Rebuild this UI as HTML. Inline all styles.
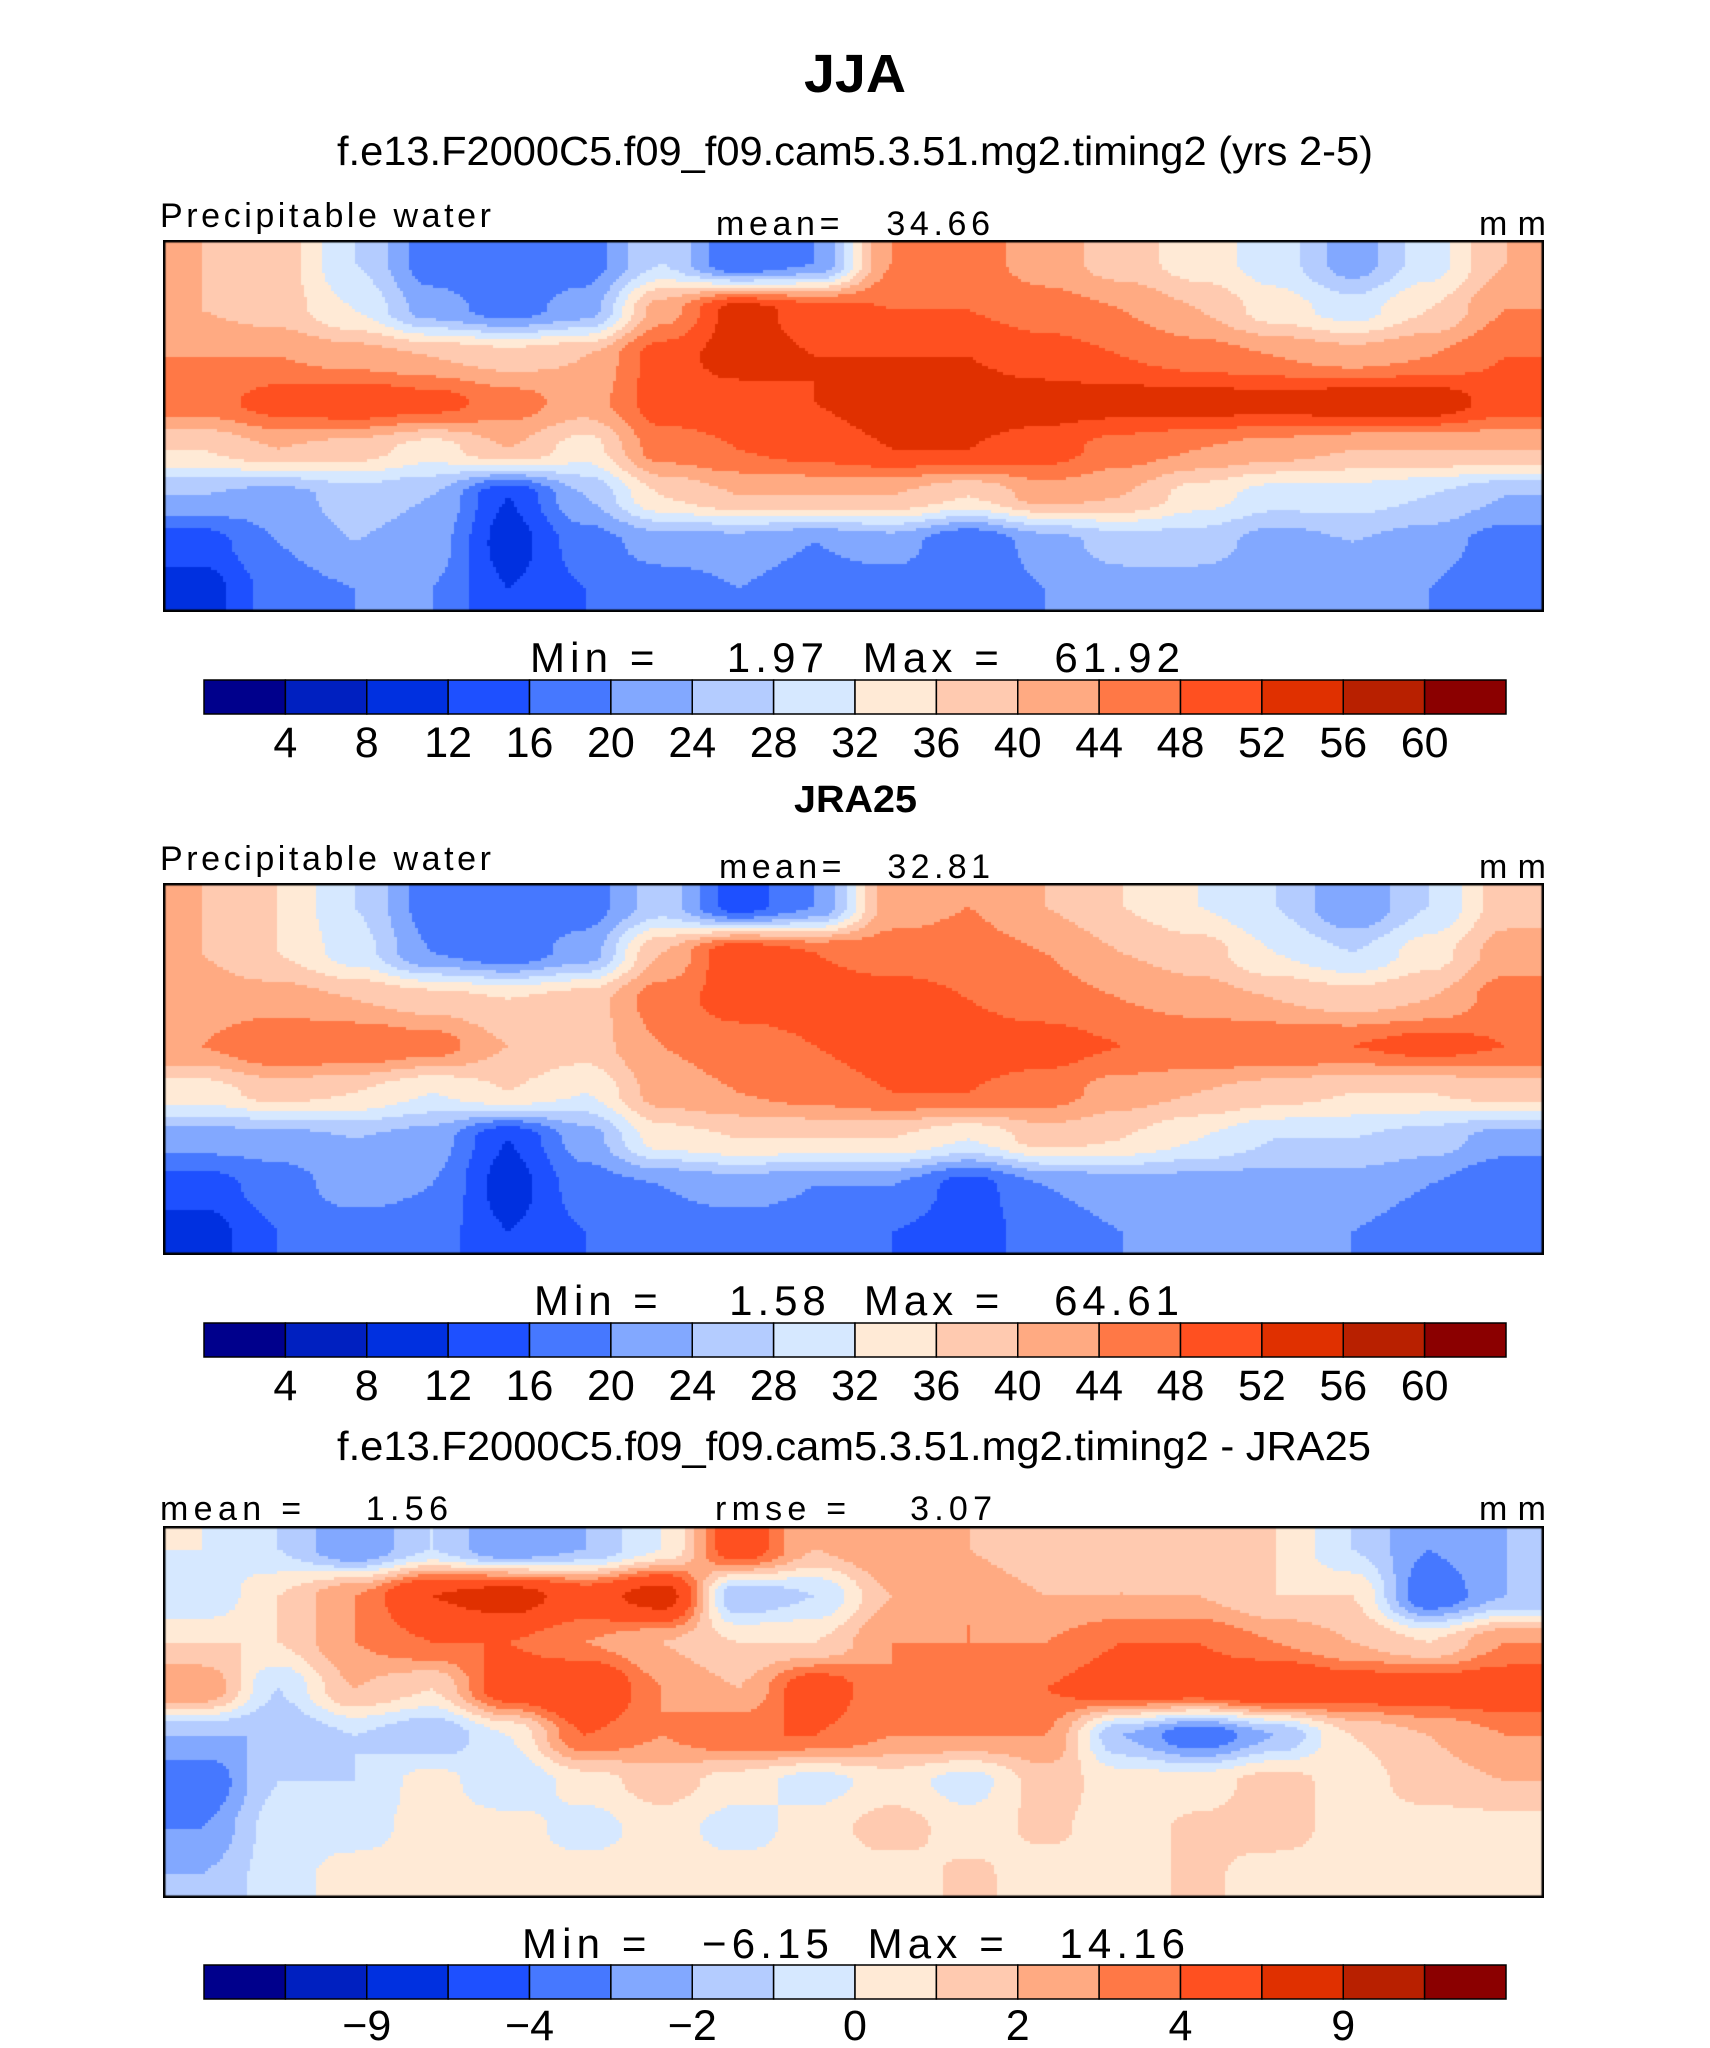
<!DOCTYPE html>
<html><head><meta charset="utf-8">
<style>
html,body{margin:0;padding:0;background:#fff;}
#wrap{position:relative;width:1710px;height:2048px;overflow:hidden;font-family:"Liberation Sans",sans-serif;}
canvas{position:absolute;}
svg{position:absolute;left:0;top:0;}
.t{font-family:"Liberation Sans",sans-serif;white-space:pre;}
</style></head>
<body>
<div id="wrap">
<canvas id="m1" width="1381" height="372" style="left:163px;top:240px"></canvas>
<canvas id="m2" width="1381" height="372" style="left:163px;top:883px"></canvas>
<canvas id="m3" width="1381" height="372" style="left:163px;top:1526px"></canvas>
<svg id="ov" width="1710" height="2048">
<text class="t" x="855" y="92" text-anchor="middle" font-size="54" font-weight="bold" textLength="102" lengthAdjust="spacingAndGlyphs">JJA</text>
<text class="t" x="855" y="165" text-anchor="middle" font-size="41" textLength="1036" lengthAdjust="spacingAndGlyphs">f.e13.F2000C5.f09_f09.cam5.3.51.mg2.timing2 (yrs 2-5)</text>
<text class="t" x="160" y="227" font-size="34" textLength="331">Precipitable water</text>
<text class="t" x="716" y="235" font-size="34" textLength="274">mean=   34.66</text>
<text class="t" x="1479" y="235" font-size="34" textLength="67">mm</text>
<text class="t" x="530" y="672" font-size="42" textLength="650">Min =    1.97  Max =   61.92</text>
<text class="t" x="794" y="812" font-size="38" font-weight="bold" textLength="123" lengthAdjust="spacingAndGlyphs">JRA25</text>
<text class="t" x="160" y="870" font-size="34" textLength="331">Precipitable water</text>
<text class="t" x="719" y="878" font-size="34" textLength="271">mean=   32.81</text>
<text class="t" x="1479" y="878" font-size="34" textLength="67">mm</text>
<text class="t" x="534" y="1315" font-size="42" textLength="645">Min =    1.58  Max =   64.61</text>
<text class="t" x="337" y="1460" font-size="41" textLength="1034" lengthAdjust="spacingAndGlyphs">f.e13.F2000C5.f09_f09.cam5.3.51.mg2.timing2 - JRA25</text>
<text class="t" x="160" y="1520" font-size="34" textLength="288">mean =    1.56</text>
<text class="t" x="715" y="1520" font-size="34" textLength="277">rmse =    3.07</text>
<text class="t" x="1479" y="1520" font-size="34" textLength="67">mm</text>
<text class="t" x="522" y="1958" font-size="42" textLength="663">Min =   −6.15  Max =   14.16</text>
<g id="bars"></g>
</svg>
</div>
<script>
const colors=["#00008C","#0020C0","#0030E0","#1E50FF","#4678FF","#82A8FF","#B4CCFF","#D6E8FF","#FFEAD6","#FFCAB0","#FFAA82","#FF7846","#FF5020","#E03000","#B82000","#8B0000"];
const pwLevels=[4,8,12,16,20,24,28,32,36,40,44,48,52,56,60];
const pwTickLabels=["4","8","12","16","20","24","28","32","36","40","44","48","52","56","60"];
const diffLevels=[-12,-9,-6,-4,-3,-2,-1,0,1,2,3,4,6,9,12];
const diffTickLabels=["","−9","","−4","","−2","","0","","2","","4","","9",""];
const modelGrid=[
[40,38,28,18,16,18,28,16,20,44,46,42,38,34,30,22,30,40],
[40,38,32,22,18,22,42,54,50,48,48,46,44,40,34,30,36,44],
[44,44,42,40,38,40,50,54,52,52,52,50,48,46,44,42,44,48],
[46,50,52,50,46,42,50,50,52,54,54,54,54,54,54,55,55,50],
[36,40,38,34,40,34,46,48,50,52,52,50,46,44,42,40,40,40],
[24,22,26,24,12,24,36,40,40,40,36,42,40,34,30,30,28,24],
[14,20,24,22,10,18,22,22,20,22,16,22,26,26,22,24,22,18],
[10,18,20,20,12,16,18,20,18,18,16,20,22,22,20,20,20,16]];
const jraGrid=[
[40,36,28,18,16,18,26,14,20,42,44,40,36,32,28,20,28,38],
[40,36,30,20,17,22,40,52,48,46,46,44,40,38,32,28,34,42],
[42,42,40,38,36,38,46,50,50,50,48,46,44,42,40,38,40,46],
[44,48,48,46,40,38,44,46,48,50,50,50,48,48,48,48,50,48],
[34,38,36,32,36,32,42,44,46,48,48,46,42,40,38,36,36,38],
[22,22,24,22,12,22,34,36,36,36,32,38,36,32,28,28,26,22],
[14,18,22,20,10,18,20,22,20,20,14,20,22,22,22,22,20,16],
[10,16,18,18,12,16,18,18,18,16,14,18,20,20,20,20,18,16]];
const diffGrid=[
[0,-1,-3,-1,-3,-2,0,5,2,3,2,1,2,1,1,-1,-3,-2],
[-1,1,3,6,7,5,7,-2,-1,2,3,2,2,2,1,1,-4,-2],
[1,1,3,4,4,3,2,1,1,3,3,3,4,4,3,2,1,3],
[3,-1,2,1,5,6,3,2,5,3,3,4,5,5,6,5,5,5],
[-2,-2,-1,-2,0,4,3,4,4,3,3,3,-2,-4,-2,1,2,3],
[-4,-1,-1,0.5,-1,0.5,1.5,0.5,-0.5,0.5,-0.5,1.5,0.5,0.5,1.5,0.5,1.5,2],
[-3,-0.5,-0.5,0.5,0.5,-0.5,0.5,-0.5,0.5,1.5,0.5,1.2,0.5,1.2,1.5,0.5,0.5,0.5],
[-2,-0.5,0.5,0.5,0.5,0.5,0.5,0.5,0.5,0.5,1.2,0.5,0.5,1.2,0.5,0.5,0.5,0.2]];

function levelIndex(v,levels){let i=0;while(i<levels.length&&v>=levels[i]-1e-6)i++;return i;}
function sample(g,fx,fy){
  const R=g.length,C=g[0].length;
  let x=Math.max(0,Math.min(C-1.0001,fx)),y=Math.max(0,Math.min(R-1.0001,fy));
  const i=Math.floor(x),j=Math.floor(y);let tx=x-i,ty=y-j;
  tx=tx*tx*(3-2*tx);ty=ty*ty*(3-2*ty);
  const a=g[j][i],b=g[j][i+1],c=g[j+1][i],d=g[j+1][i+1];
  return a*(1-tx)*(1-ty)+b*tx*(1-ty)+c*(1-tx)*ty+d*tx*ty;
}
function drawMap(id,g,levels){
  const cv=document.getElementById(id),ctx=cv.getContext('2d');
  const W=cv.width,H=cv.height,C=g[0].length,R=g.length,s=3;
  for(let y=0;y<H;y+=s)for(let x=0;x<W;x+=s){
    const v=sample(g,(x+s/2)/W*C-0.5,(y+s/2)/H*R-0.5);
    ctx.fillStyle=colors[levelIndex(v,levels)];ctx.fillRect(x,y,s,s);
  }
  ctx.strokeStyle="#000";ctx.lineWidth=3;ctx.strokeRect(1,1,W-2,H-2);
}
drawMap('m1',modelGrid,pwLevels);
drawMap('m2',jraGrid,pwLevels);
drawMap('m3',diffGrid,diffLevels);

const NS="http://www.w3.org/2000/svg";
const bars=document.getElementById('bars');
const barX0=204,barW=1302,boxW=barW/16;
function colorbar(y,labels,ly,name){
  const g=document.createElementNS(NS,'g');
  
  
  for(let i=0;i<16;i++){
    const r=document.createElementNS(NS,'rect');
    r.setAttribute('x',barX0+i*boxW);r.setAttribute('y',y);
    r.setAttribute('width',boxW);r.setAttribute('height',34);
    r.setAttribute('fill',colors[i]);r.setAttribute('stroke','#000');r.setAttribute('stroke-width','1.5');
    
    
    g.appendChild(r);
  }
  labels.forEach((l,k)=>{
    if(!l)return;
    const t=document.createElementNS(NS,'text');
    t.setAttribute('x',barX0+(k+1)*boxW);t.setAttribute('y',ly);
    t.setAttribute('text-anchor','middle');t.setAttribute('font-size','43');
    t.setAttribute('font-family','"Liberation Sans",sans-serif');
    t.textContent=l;
    
    
    g.appendChild(t);
  });
  bars.appendChild(g);
}
colorbar(680,pwTickLabels,757,'colorbar-1');
colorbar(1323,pwTickLabels,1400,'colorbar-2');
colorbar(1965,diffTickLabels,2040,'colorbar-3');
</script>
</body></html>
